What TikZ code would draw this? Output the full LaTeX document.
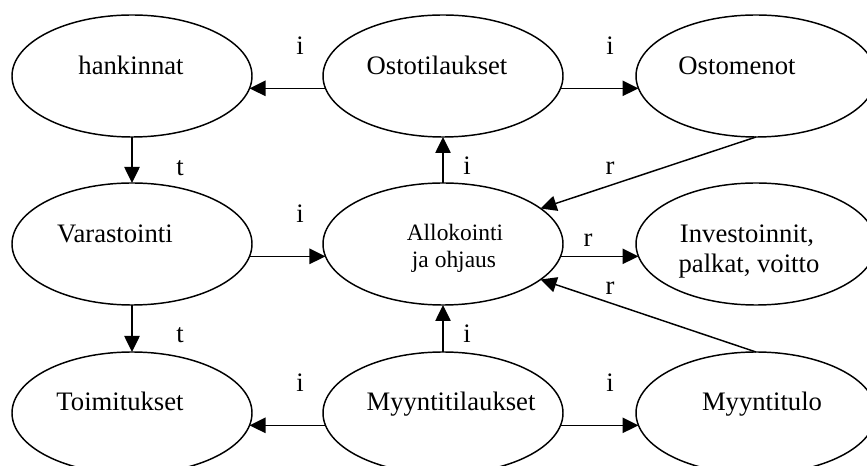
\documentclass[tikz,border=0pt]{standalone}
\usepackage{fontspec}
\setmainfont{Liberation Serif}
\usetikzlibrary{shapes.geometric,arrows.meta}
\begin{document}
\begin{tikzpicture}[x=0.75pt,y=-0.75pt,
  proc/.style={ellipse,draw,line width=1.1pt,minimum width=180pt,minimum height=91.5pt,inner sep=0pt,outer sep=0pt},
  txt/.style={font=\fontsize{20}{22}\selectfont,anchor=base,inner sep=0pt},
  small/.style={font=\fontsize{17.6}{21}\selectfont,anchor=base,inner sep=0pt},
  lbl/.style={font=\fontsize{20}{22}\selectfont,anchor=base,inner sep=0pt},
  flow/.style={line width=1.1pt,-{Triangle[length=12pt,width=11.5pt]}}]
\useasboundingbox (0,0) rectangle (867,466);
\clip (0,0) rectangle (867,466);
% process ellipses
\node[proc] (hank) at (132,76) {};
\node[proc] (osto) at (443,76) {};
\node[proc] (ostomen) at (756,76) {};
\node[proc] (var) at (132,244) {};
\node[proc] (alloc) at (443,244) {};
\node[proc] (inv) at (756,244) {};
\node[proc] (toim) at (132,413) {};
\node[proc] (myynti) at (443,413) {};
\node[proc] (tulo) at (756,413) {};
% texts inside the ellipses
\node[txt] (t1) at (131,75) {hankinnat};
\node[txt] (t2) at (437,75) {Ostotilaukset};
\node[txt] (t3) at (737,75) {Ostomenot};
\node[txt] (t4) at (115,243) {Varastointi};
\node[small] (t5) at (455,241) {Allokointi};
\node[small] (t6) at (454,268) {ja ohjaus};
\node[txt] (t7) at (747,243) {Investoinnit,};
\node[txt] (t8) at (749,273) {palkat, voitto};
\node[txt] (t9) at (120,411) {Toimitukset};
\node[txt] (t10) at (451,411) {Myyntitilaukset};
\node[txt] (t11) at (762,411) {Myyntitulo};
% connectors
\draw[flow] (osto.186) -- (hank.-6);
\draw[flow] (osto.-6) -- (ostomen.186);
\draw[flow] (hank.south) -- (var.north);
\draw[flow] (var.-6) -- (alloc.186);
\draw[flow] (alloc.north) -- (osto.south);
\draw[flow] (ostomen.south) -- (alloc.20);
\draw[flow] (alloc.-6) -- (inv.186);
\draw[flow] (tulo.north) -- (alloc.-20);
\draw[flow] (myynti.north) -- (alloc.south);
\draw[flow] (var.south) -- (toim.north);
\draw[flow] (myynti.186) -- (toim.-6);
\draw[flow] (myynti.-6) -- (tulo.186);
% connector labels
\node[lbl] (l1) at (300,55) {i};
\node[lbl] (l2) at (610,55) {i};
\node[lbl] (l3) at (180,176) {t};
\node[lbl] (l4) at (467,175) {i};
\node[lbl] (l5) at (610,175) {r};
\node[lbl] (l6) at (300,223) {i};
\node[lbl] (l7) at (588,247) {r};
\node[lbl] (l8) at (610,295) {r};
\node[lbl] (l9) at (180,343) {t};
\node[lbl] (l10) at (467,343) {i};
\node[lbl] (l11) at (300,392) {i};
\node[lbl] (l12) at (610,392) {i};
\end{tikzpicture}
\end{document}
